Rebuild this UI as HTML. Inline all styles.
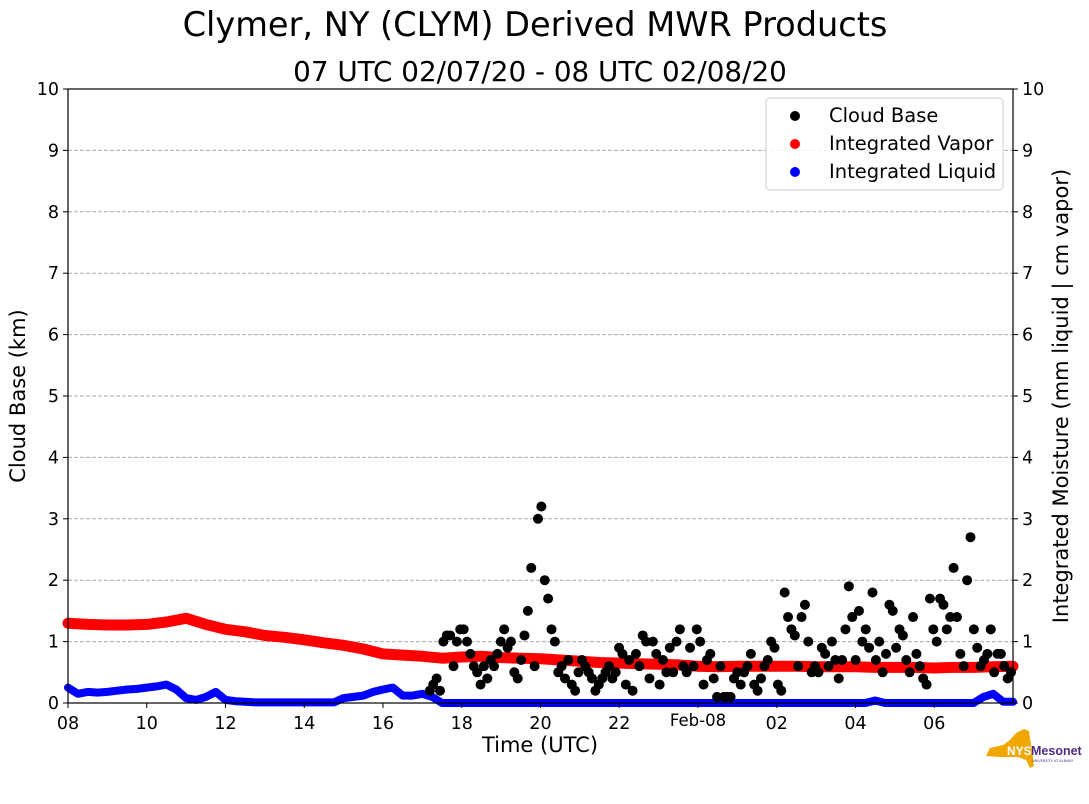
<!DOCTYPE html>
<html><head><meta charset="utf-8"><style>
body{margin:0;background:#fff;}
svg{display:block;font-family:"DejaVu Sans","Liberation Sans",sans-serif;}
</style></head><body>
<svg id="chart" width="1089" height="804" viewBox="0 0 1089 804" xmlns="http://www.w3.org/2000/svg">
<text x="535" y="36" font-size="33.6" text-anchor="middle">Clymer, NY (CLYM) Derived MWR Products</text>
<text x="540" y="81" font-size="27.8" text-anchor="middle">07 UTC 02/07/20 - 08 UTC 02/08/20</text>
<g id="grid"></g>
<g id="series"></g>
<rect x="68" y="89" width="945" height="614" fill="none" stroke="#000" stroke-width="1.2"/>
<g id="axes"></g>
<text x="25" y="396" font-size="21" text-anchor="middle" transform="rotate(-90 25 396)">Cloud Base (km)</text>
<text x="1068" y="396" font-size="21" text-anchor="middle" transform="rotate(-90 1068 396)">Integrated Moisture (mm liquid | cm vapor)</text>
<text x="540" y="752" font-size="21" text-anchor="middle">Time (UTC)</text>
<g>
<rect x="766" y="98" width="237" height="92" rx="4" fill="#fff" fill-opacity="0.85" stroke="#ccc"/>
<g><circle cx="795" cy="116" r="5" fill="#000"/><text x="829" y="122" font-size="19.5">Cloud Base</text></g>
<g><circle cx="795" cy="144" r="5" fill="#f00"/><text x="829" y="150" font-size="19.5">Integrated Vapor</text></g>
<g><circle cx="795" cy="172" r="5" fill="#00f"/><text x="829" y="178" font-size="19.5">Integrated Liquid</text></g>
</g>
<g>
<polygon points="990,748 1003,745 1010,740 1016,733 1024,729 1029,731 1031,745 1033,758 1034,766 1030,768 1026,760 1018,757 1000,757 986,756" fill="#f0a800"/>
<text x="1007" y="755" font-size="12" font-weight="bold" fill="#fff" font-family="Liberation Sans, sans-serif">NYS</text>
<text x="1031" y="755" font-size="12.5" font-weight="bold" fill="#4b2e83" font-family="Liberation Sans, sans-serif">Mesonet</text>
<text x="1032" y="762" font-size="3.5" fill="#4b2e83">UNIVERSITY AT ALBANY</text>
</g>
</svg>
<script>
const yTicks=[0,1,2,3,4,5,6,7,8,9,10];
const xTickHours=[0,2,4,6,8,10,12,14,16,18,20,22];
const xTickLabels=["08","10","12","14","16","18","20","22","Feb-08","02","04","06"];
const vaporStartHour=0, vaporStepHours=0.5;
const vaporValues=[1.30,1.28,1.27,1.27,1.28,1.32,1.38,1.28,1.20,1.16,1.10,1.07,1.03,0.98,0.94,0.88,0.80,0.78,0.76,0.73,0.75,0.76,0.74,0.73,0.72,0.70,0.68,0.66,0.65,0.64,0.63,0.62,0.60,0.59,0.60,0.60,0.60,0.60,0.59,0.59,0.59,0.58,0.58,0.58,0.57,0.58,0.58,0.59,0.60];
const liquidStartHour=0, liquidStepHours=0.25;
const liquidValues=[0.25,0.15,0.18,0.17,0.18,0.20,0.22,0.23,0.25,0.27,0.30,0.22,0.08,0.05,0.10,0.18,0.05,0.03,0.02,0.01,0.01,0.01,0.01,0.01,0.01,0.01,0.01,0.01,0.08,0.10,0.12,0.18,0.22,0.25,0.12,0.12,0.15,0.10,
0,0,0,0,0,0,0,0,0,0,0,0,0,0,0,0,0,0,0,0,0,0,0,0,0,0,0,0,0,0,0,0,0,0,0,0,0,0,0,0,0,0,0,0,
0.04,0,0,0,0,0,0,0,0,0,0,0.10,0.15,0.02,0.02];
const cloudStartHour=9.19, cloudEndHour=23.95;
const cloudValues=[0.2,0.3,0.4,0.2,1.0,1.1,1.1,0.6,1.0,1.2,1.2,1.0,0.8,0.6,0.5,0.3,0.6,0.4,0.7,0.6,0.8,1.0,1.2,0.9,1.0,0.5,0.4,0.7,1.1,1.5,2.2,0.6,3.0,3.2,2.0,1.7,1.2,1.0,0.5,0.6,0.4,0.7,0.3,0.2,0.5,0.7,0.6,0.5,0.4,0.2,0.3,0.4,0.5,0.6,0.4,0.5,0.9,0.8,0.3,0.7,0.2,0.8,0.6,1.1,1.0,0.4,1.0,0.8,0.3,0.7,0.5,0.9,0.5,1.0,1.2,0.6,0.5,0.9,0.6,1.2,1.0,0.3,0.7,0.8,0.4,0.1,0.6,0.1,0.1,0.1,0.4,0.5,0.3,0.5,0.6,0.8,0.3,0.2,0.4,0.6,0.7,1.0,0.9,0.3,0.2,1.8,1.4,1.2,1.1,0.6,1.4,1.6,1.0,0.5,0.6,0.5,0.9,0.8,0.6,1.0,0.7,0.4,0.7,1.2,1.9,1.4,0.7,1.5,1.0,1.2,0.9,1.8,0.7,1.0,0.5,0.8,1.6,1.5,0.9,1.2,1.1,0.7,0.5,1.4,0.8,0.6,0.4,0.3,1.7,1.2,1.0,1.7,1.6,1.2,1.4,2.2,1.4,0.8,0.6,2.0,2.7,1.2,0.9,0.6,0.7,0.8,1.2,0.5,0.8,0.8,0.6,0.4,0.5];

const NS="http://www.w3.org/2000/svg";
const X0=68,X1=1013,Y0=703,Y1=89;
const xs=h=>X0+(h/24)*(X1-X0);
const ys=v=>Y0-(v/10)*(Y0-Y1);
function mk(tag,attrs,parent){const e=document.createElementNS(NS,tag);for(const k in attrs)e.setAttribute(k,attrs[k]);parent.appendChild(e);return e;}
const grid=document.getElementById('grid'),axes=document.getElementById('axes'),series=document.getElementById('series');
yTicks.forEach(v=>{
  const y=ys(v);
  if(v>0&&v<10){const g=mk('line',{x1:X0,x2:X1,y1:y,y2:y,stroke:'#aaa','stroke-dasharray':'4,2','stroke-width':1},grid);
  
  }
  mk('line',{x1:X0-5,x2:X0,y1:y,y2:y,stroke:'#000'},axes);
  mk('line',{x1:X1,x2:X1+5,y1:y,y2:y,stroke:'#000'},axes);
  const t=mk('text',{x:X0-9,y:y+6,'font-size':17.5,'text-anchor':'end'},axes);t.textContent=v;
  
  
  const t2=mk('text',{x:X1+9,y:y+6,'font-size':17.5},axes);t2.textContent=v;
  
  
});
xTickHours.forEach((h,i)=>{
  const x=xs(h);
  mk('line',{x1:x,x2:x,y1:Y0,y2:Y0+5,stroke:'#000'},axes);
  const lab=xTickLabels[i];
  const t=mk('text',{x:x,y:lab.length>2?Y0+23:Y0+26,'font-size':lab.length>2?16.5:17.5,'text-anchor':'middle'},axes);t.textContent=lab;
  
  
});
function band(vals,start,step,color,name,w){
  const pts=vals.map((v,i)=>xs(start+i*step).toFixed(1)+','+ys(v).toFixed(1)).join(' ');
  const p=mk('polyline',{points:pts,fill:'none',stroke:color,'stroke-width':w,'stroke-linejoin':'round','stroke-linecap':'round'},series);
  
  
}
band(vaporValues,vaporStartHour,vaporStepHours,'#f00','integrated-vapor-series',11);
band(liquidValues,liquidStartHour,liquidStepHours,'#00f','integrated-liquid-series',8);
const cStep=(cloudEndHour-cloudStartHour)/(cloudValues.length-1);
cloudValues.forEach((v,i)=>{
  const c=mk('circle',{cx:xs(cloudStartHour+i*cStep),cy:ys(v),r:5,fill:'#000'},series);
  
  
});
</script>
</body></html>
